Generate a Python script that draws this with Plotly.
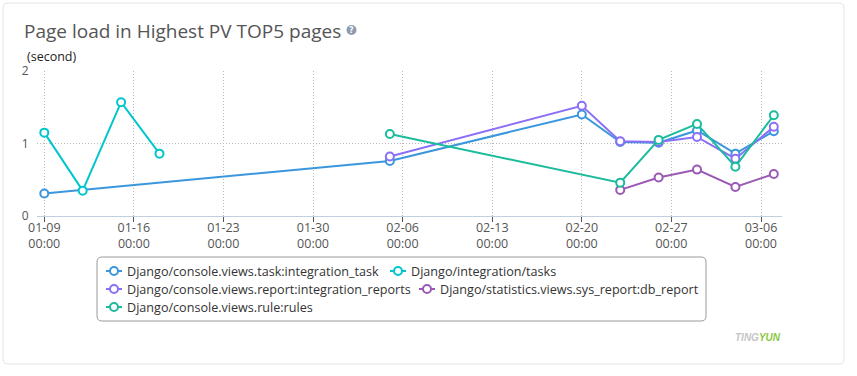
import plotly.graph_objects as go

# ---------------- data ----------------
dates_task = ["2018-01-09", "2018-02-05", "2018-02-20", "2018-02-23", "2018-02-26", "2018-03-01", "2018-03-04", "2018-03-07"]
vals_task = [0.31, 0.76, 1.40, 1.02, 1.01, 1.18, 0.86, 1.17]

dates_tasks = ["2018-01-09", "2018-01-12", "2018-01-15", "2018-01-18"]
vals_tasks = [1.15, 0.35, 1.57, 0.86]

dates_reports = ["2018-02-05", "2018-02-20", "2018-02-23", "2018-02-26", "2018-03-01", "2018-03-04", "2018-03-07"]
vals_reports = [0.82, 1.52, 1.03, 1.02, 1.09, 0.79, 1.23]

dates_db = ["2018-02-23", "2018-02-26", "2018-03-01", "2018-03-04", "2018-03-07"]
vals_db = [0.36, 0.53, 0.64, 0.40, 0.58]

dates_rules = ["2018-02-05", "2018-02-23", "2018-02-26", "2018-03-01", "2018-03-04", "2018-03-07"]
vals_rules = [1.13, 0.46, 1.05, 1.27, 0.68, 1.39]

series_names = [
    "Django/console.views.task:integration_task",
    "Django/integration/tasks",
    "Django/console.views.report:integration_reports",
    "Django/statistics.views.sys_report:db_report",
    "Django/console.views.rule:rules",
]
series_colors = ["#3a96dd", "#00c6ce", "#8b6ff7", "#9b59b6", "#1abc9c"]

tick_dates = ["2018-01-09", "2018-01-16", "2018-01-23", "2018-01-30", "2018-02-06",
              "2018-02-13", "2018-02-20", "2018-02-27", "2018-03-06"]
tick_labels = ["01-09<br>00:00", "01-16<br>00:00", "01-23<br>00:00", "01-30<br>00:00", "02-06<br>00:00",
               "02-13<br>00:00", "02-20<br>00:00", "02-27<br>00:00", "03-06<br>00:00"]
y_ticks = [0, 1, 2]

title_text = "Page load in Highest PV TOP5 pages"
unit_text = "(second)"

# ---------------- layout geometry (pixels) ----------------
W, H = 857, 376
PL, PR, PT, PB = 37, 782, 71, 216
FONT = "Open Sans"


def px(x):
    return (x - PL) / (PR - PL)


def py(y):
    return (PB - y) / (PB - PT)


all_series = [
    (dates_task, vals_task),
    (dates_tasks, vals_tasks),
    (dates_reports, vals_reports),
    (dates_db, vals_db),
    (dates_rules, vals_rules),
]

fig = go.Figure()
for (d, v), name, col in zip(all_series, series_names, series_colors):
    fig.add_trace(go.Scatter(
        x=d, y=v, name=name, mode="lines+markers",
        line=dict(color=col, width=2),
        marker=dict(symbol="circle", size=8, color="white", line=dict(color=col, width=2)),
        showlegend=False,
    ))

shapes = []
annotations = []


def rounded_rect(x0, y0, x1, y1, r):
    X0, X1 = px(x0), px(x1)
    Y0, Y1 = py(y0), py(y1)
    rx = r / (PR - PL)
    ry = r / (PB - PT)
    return (f"M{X0+rx},{Y0} L{X1-rx},{Y0} Q{X1},{Y0} {X1},{Y0-ry} "
            f"L{X1},{Y1+ry} Q{X1},{Y1} {X1-rx},{Y1} L{X0+rx},{Y1} "
            f"Q{X0},{Y1} {X0},{Y1+ry} L{X0},{Y0-ry} Q{X0},{Y0} {X0+rx},{Y0} Z")


# card border
shapes.append(dict(type="path", xref="paper", yref="paper", path=rounded_rect(3, 3, 844, 364, 5),
                   line=dict(color="#e4e4e4", width=1), fillcolor="rgba(0,0,0,0)", layer="below"))
# legend box
shapes.append(dict(type="path", xref="paper", yref="paper", path=rounded_rect(97, 257, 706, 321, 5),
                   line=dict(color="#9a9a9a", width=1), fillcolor="rgba(0,0,0,0)"))

# legend entries
leg_pos = [(114, 271), (398, 271), (114, 289), (427, 289), (114, 307)]
for (mx, my), name, col in zip(leg_pos, series_names, series_colors):
    shapes.append(dict(type="line", xref="paper", yref="paper",
                       x0=px(mx - 8), x1=px(mx + 8), y0=py(my), y1=py(my),
                       line=dict(color=col, width=2)))
    shapes.append(dict(type="circle", xref="paper", yref="paper",
                       x0=px(mx - 4), x1=px(mx + 4), y0=py(my + 4), y1=py(my - 4),
                       line=dict(color=col, width=2), fillcolor="white"))
    annotations.append(dict(xref="paper", yref="paper", x=px(mx + 11), y=py(my),
                            xanchor="left", yanchor="middle", showarrow=False, text=name,
                            font=dict(family=FONT, size=12.6, color="#333333")))

# title
annotations.append(dict(xref="paper", yref="paper", x=px(22), y=py(31), xanchor="left", yanchor="middle",
                        showarrow=False, text=title_text,
                        font=dict(family=FONT, size=19, color="#555555")))
# help icon
shapes.append(dict(type="circle", xref="paper", yref="paper",
                   x0=px(346.5), x1=px(356.5), y0=py(35), y1=py(25),
                   line=dict(color="#8e9aae", width=0), fillcolor="#8e9aae"))
annotations.append(dict(xref="paper", yref="paper", x=px(351.5), y=py(30), xanchor="center", yanchor="middle",
                        showarrow=False, text="<b>?</b>",
                        font=dict(family="DejaVu Sans", size=8, color="white")))
# unit
annotations.append(dict(xref="paper", yref="paper", x=px(25), y=py(56), xanchor="left", yanchor="middle",
                        showarrow=False, text=unit_text,
                        font=dict(family=FONT, size=12.5, color="#222222")))
# watermark
annotations.append(dict(xref="paper", yref="paper", x=px(733), y=py(337), xanchor="left", yanchor="middle",
                        showarrow=False,
                        text="<b><i><span style='color:#c6c6c6'>TING</span><span style='color:#8cc63f'>YUN</span></i></b>",
                        font=dict(family="Liberation Sans", size=10)))

fig.update_layout(
    width=W, height=H,
    margin=dict(l=PL, r=W - PR, t=PT, b=H - PB, pad=0),
    paper_bgcolor="white", plot_bgcolor="white",
    showlegend=False,
    shapes=shapes,
    annotations=annotations,
    xaxis=dict(
        type="date",
        range=["2018-01-08 10:19", "2018-03-07 15:23"],
        tickvals=tick_dates, ticktext=tick_labels,
        showgrid=True, gridcolor="#b8b8b8", griddash="1px,2px", gridwidth=1,
        showline=True, linecolor="#c0d0e0", linewidth=1,
        ticks="outside", ticklen=5, tickcolor="#555555", tickwidth=1,
        ticklabelstandoff=-5,
        tickfont=dict(family=FONT, size=12.5, color="#555555"),
        zeroline=False,
    ),
    yaxis=dict(
        range=[0, 2], tickvals=y_ticks,
        showgrid=True, gridcolor="#b8b8b8", griddash="1px,2px", gridwidth=1,
        zeroline=False, showline=False,
        ticks="outside", ticklen=5, tickcolor="rgba(0,0,0,0)",
        tickfont=dict(family=FONT, size=12, color="#555555"),
    ),
    hovermode=False,
)

fig.write_html("out.html", config={"displayModeBar": False},
               post_script="document.body.style.margin='0px';")
